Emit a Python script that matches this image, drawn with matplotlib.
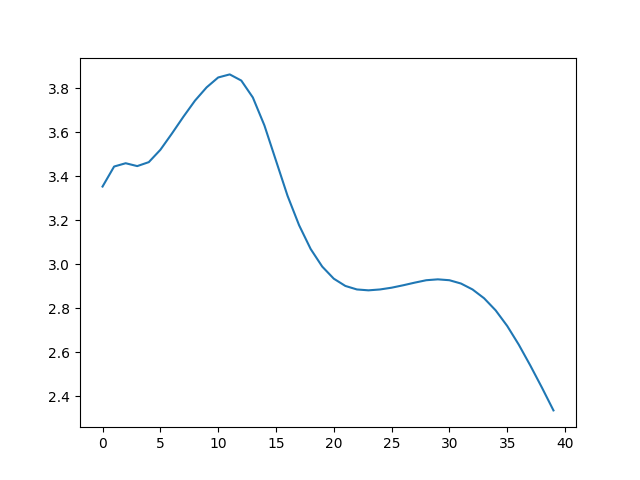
import matplotlib
matplotlib.use('Agg')
import matplotlib.pyplot as plt

# values, one per integer step
values = [3.354, 3.445, 3.460, 3.447, 3.465, 3.521, 3.595, 3.672, 3.745, 3.805,
          3.850, 3.864, 3.836, 3.759, 3.632, 3.472, 3.312, 3.178, 3.070, 2.990,
          2.935, 2.902, 2.886, 2.882, 2.886, 2.894, 2.905, 2.917, 2.928, 2.932,
          2.928, 2.913, 2.886, 2.846, 2.791, 2.720, 2.635, 2.540, 2.440, 2.336]

plt.figure(figsize=(6.4, 4.8), dpi=100)
plt.plot(values)
plt.savefig('out.png')
